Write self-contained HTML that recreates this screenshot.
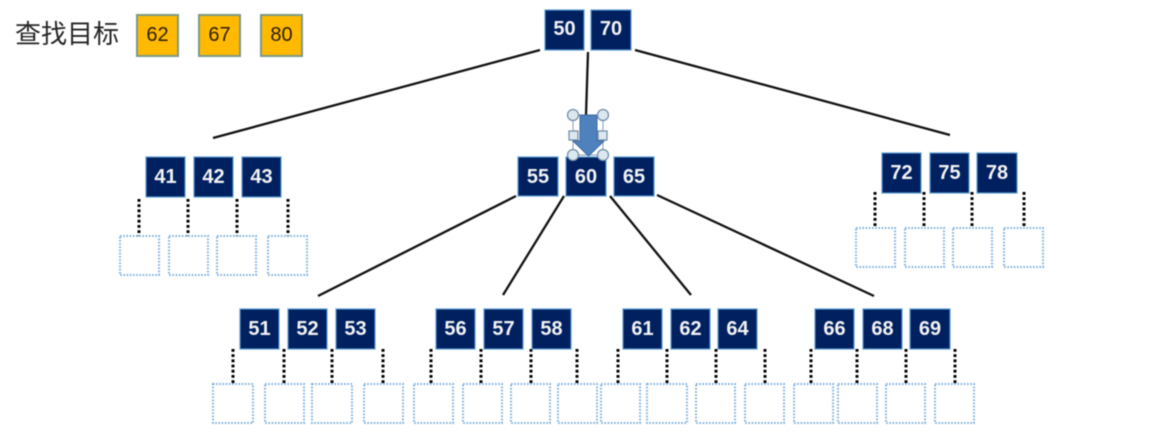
<!DOCTYPE html>
<html><head><meta charset="utf-8"><style>
html,body{margin:0;padding:0;background:#fff;width:1151px;height:436px;overflow:hidden}
svg{display:block;filter:blur(.45px)}
.n rect{fill:#002060;stroke:#5b9bd5;stroke-width:1.2}
.n text{fill:#f2f2f2;font:bold 20px "Liberation Sans","DejaVu Sans",sans-serif;text-anchor:middle}
.e rect{fill:#fff;stroke:#7fb0dc;stroke-width:2;stroke-dasharray:1.6 1.6}
.d path{stroke:#000;stroke-width:3;stroke-dasharray:2.8 2.4;fill:none}
.l path{stroke:#111;stroke-width:2.3;fill:none}
.t rect{fill:#ffb900;stroke:#7c9a86;stroke-width:2}
.t text{fill:#2e2000;font:20px "Liberation Sans",sans-serif;text-anchor:middle}
</style></head><body>
<svg width="1151" height="436" viewBox="0 0 1151 436" xmlns="http://www.w3.org/2000/svg">
<text x="15" y="43" font-size="26" fill="#262626" font-family="'Liberation Sans','Noto Sans CJK SC',sans-serif">查找目标</text>
<g class="t">
<rect x="137" y="15" width="41" height="41"/><text x="157.500" y="41">62</text>
<rect x="199" y="15" width="41" height="41"/><text x="219.500" y="41">67</text>
<rect x="261" y="15" width="41" height="41"/><text x="281.500" y="41">80</text>
</g>
<g class="l">
<path d="M540 50L213 138"/><path d="M588 52L586 115"/><path d="M635 50L950 135"/>
<path d="M516 196L318 296"/><path d="M564 196L503 295"/><path d="M610 196L691 295"/><path d="M657 195L874 296"/>
</g>
<g class="d">
<path d="M139 199V236M188 199V236M237 199V236M288 199V236"/>
<path d="M875 192V228M924 192V228M972 192V228M1024 192V228"/>
<path d="M233 349V384M284 349V384M332 349V384M383 349V384M431 349V384M481 349V384M531 349V384M577 349V384M618 349V384M667 349V384M716 349V384M765 349V384M811 349V384M857 349V384M906 349V384M955 349V384"/>
</g>
<g class="e">
<rect x="120" y="236" width="39" height="39"/><rect x="169" y="236" width="39" height="39"/><rect x="217" y="236" width="39" height="39"/><rect x="268" y="236" width="39" height="39"/>
<rect x="856" y="228" width="39" height="39"/><rect x="905" y="228" width="39" height="39"/><rect x="953" y="228" width="39" height="39"/><rect x="1004" y="228" width="39" height="39"/>
<rect x="213" y="384" width="40" height="39"/><rect x="265" y="384" width="39" height="39"/><rect x="312" y="384" width="40" height="39"/><rect x="364" y="384" width="39" height="39"/>
<rect x="414" y="384" width="39" height="39"/><rect x="463" y="384" width="39" height="39"/><rect x="511" y="384" width="39" height="39"/><rect x="558" y="384" width="39" height="39"/>
<rect x="601" y="384" width="39" height="39"/><rect x="647" y="384" width="40" height="39"/><rect x="696" y="384" width="39" height="39"/><rect x="745" y="384" width="39" height="39"/>
<rect x="794" y="384" width="39" height="39"/><rect x="838" y="384" width="39" height="39"/><rect x="886" y="384" width="39" height="39"/><rect x="935" y="384" width="39" height="39"/>
</g>
<g class="n">
<rect x="545" y="10" width="39" height="40"/><text x="564.500" y="35">50</text>
<rect x="591" y="10" width="40" height="40"/><text x="611" y="35">70</text>
<rect x="146" y="157" width="39" height="40"/><text x="165.500" y="183">41</text>
<rect x="194" y="157" width="39" height="40"/><text x="213.500" y="183">42</text>
<rect x="242" y="157" width="39" height="40"/><text x="261.500" y="183">43</text>
<rect x="518" y="157" width="40" height="39"/><text x="538" y="183">55</text>
<rect x="566" y="157" width="40" height="39"/><text x="586" y="183">60</text>
<rect x="614" y="157" width="40" height="39"/><text x="634" y="183">65</text>
<rect x="882" y="153" width="39" height="40"/><text x="901.500" y="179">72</text>
<rect x="930" y="153" width="39" height="40"/><text x="949.500" y="179">75</text>
<rect x="977" y="153" width="40" height="40"/><text x="997" y="179">78</text>
<rect x="240" y="309" width="39" height="40"/><text x="259.500" y="335">51</text>
<rect x="288" y="309" width="39" height="40"/><text x="307.500" y="335">52</text>
<rect x="336" y="309" width="39" height="40"/><text x="355.500" y="335">53</text>
<rect x="436" y="309" width="39" height="40"/><text x="455.500" y="335">56</text>
<rect x="484" y="309" width="39" height="40"/><text x="503.500" y="335">57</text>
<rect x="532" y="309" width="39" height="40"/><text x="551.500" y="335">58</text>
<rect x="623" y="309" width="39" height="40"/><text x="642.500" y="335">61</text>
<rect x="671" y="309" width="39" height="40"/><text x="690.500" y="335">62</text>
<rect x="718" y="309" width="39" height="40"/><text x="737.500" y="335">64</text>
<rect x="815" y="309" width="39" height="40"/><text x="834.500" y="335">66</text>
<rect x="863" y="309" width="39" height="40"/><text x="882.500" y="335">68</text>
<rect x="910" y="309" width="40" height="40"/><text x="930" y="335">69</text>
</g>
<rect x="573" y="115" width="30" height="40" fill="none" stroke="#8a9db5" stroke-width="1"/>
<path d="M580 115H597V141H604L588.500 156L573 141H580Z" fill="#4f81bd" stroke="#3a6ca5" stroke-width="1"/>
<g fill="#dbe8ef" stroke="#6f8aa5" stroke-width="1.2">
<circle cx="573" cy="115" r="5.500"/><circle cx="603" cy="115" r="5.500"/><circle cx="573" cy="155" r="5.500"/><circle cx="603" cy="155" r="5.500"/>
<rect x="569" y="131" width="9" height="9"/><rect x="598" y="131" width="9" height="9"/>
</g>
</svg>
</body></html>
